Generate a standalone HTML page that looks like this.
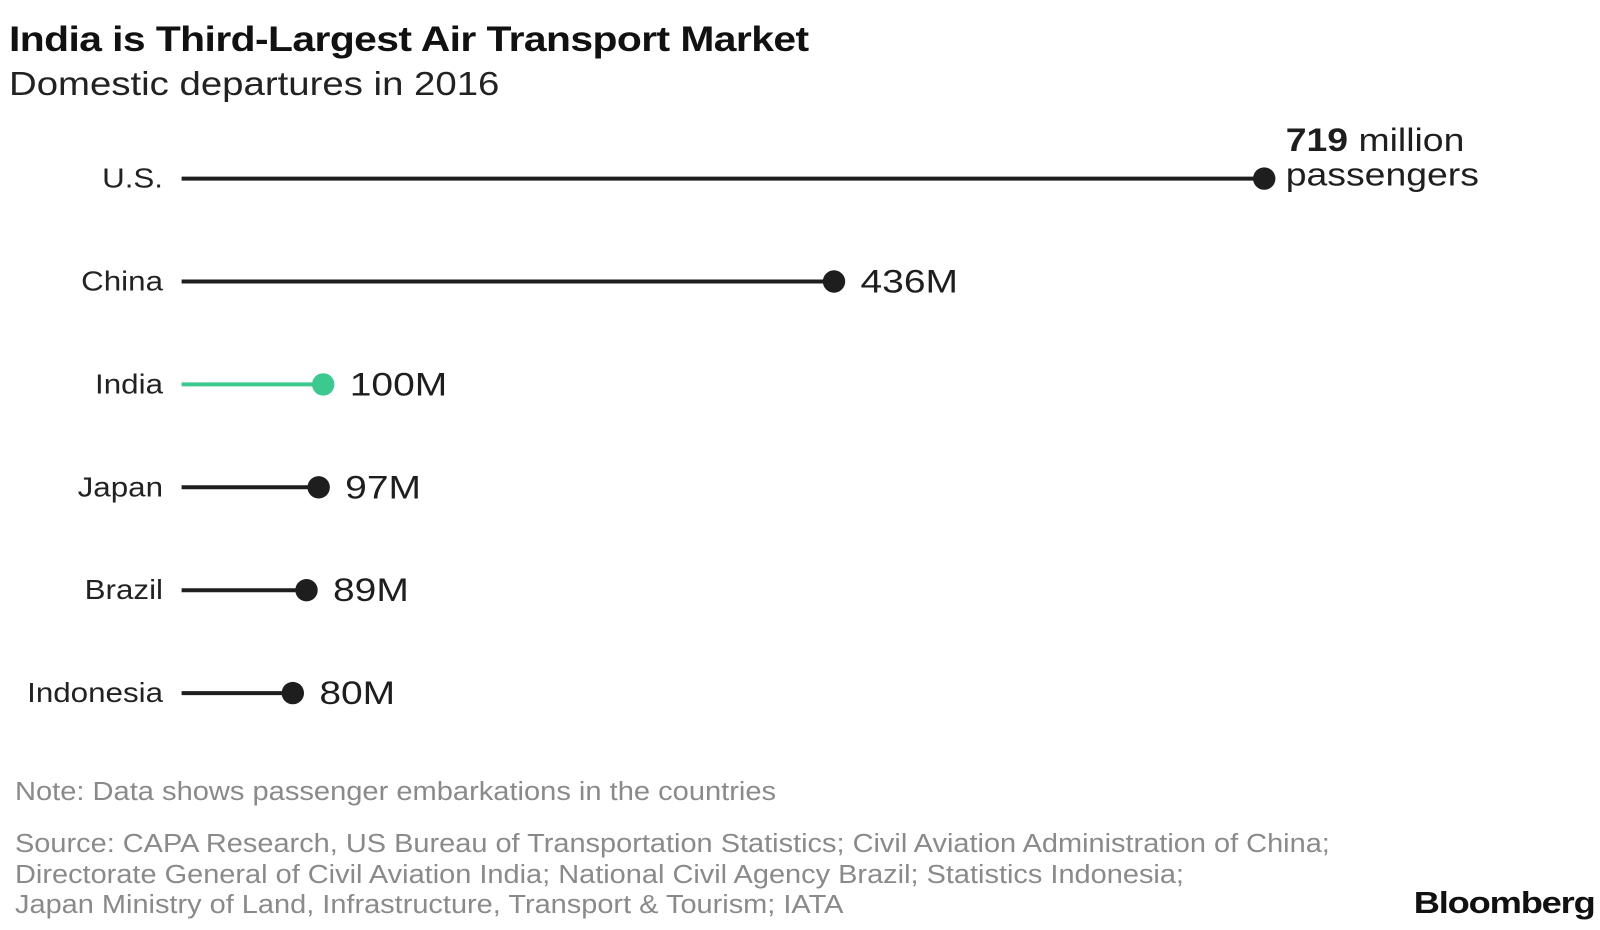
<!DOCTYPE html>
<html><head><meta charset="utf-8"><style>
body{margin:0;width:1600px;height:930px;background:#fff;font-family:"Liberation Sans",sans-serif;position:relative;overflow:hidden}
.t{position:absolute;white-space:nowrap;transform-origin:0 0}
</style></head><body>
<div class="t" style="left:9px;top:19px;font-size:35.5px;font-weight:bold;color:#111;letter-spacing:-0.5px;transform:scaleX(1.15)">India is Third-Largest Air Transport Market</div>
<div class="t" style="left:9px;top:66px;font-size:33.5px;color:#222;transform:scaleX(1.145)">Domestic departures in 2016</div>
<svg id="chart" width="1600" height="760" style="position:absolute;left:0;top:0"></svg>
<div class="t" style="left:15px;top:778px;font-size:25.5px;color:#8a8a8a;transform:scaleX(1.14)">Note: Data shows passenger embarkations in the countries</div>
<div class="t" style="left:15px;top:829px;font-size:25.5px;color:#8a8a8a;line-height:30.6px;transform:scaleX(1.135)">Source: CAPA Research, US Bureau of Transportation Statistics; Civil Aviation Administration of China;<br>Directorate General of Civil Aviation India; National Civil Agency Brazil; Statistics Indonesia;<br>Japan Ministry of Land, Infrastructure, Transport &amp; Tourism; IATA</div>
<div class="t" style="right:5px;top:885px;font-size:31px;font-weight:bold;color:#111;letter-spacing:-1px;transform-origin:100% 0;transform:scaleX(1.17)">Bloomberg</div>
<script>
const countries=["U.S.","China","India","Japan","Brazil","Indonesia"];
const values=[719,436,100,97,89,80];
const valueLabels=["719","436M","100M","97M","89M","80M"];
const highlight=["India"];
const svg=document.getElementById('chart');
const NS="http://www.w3.org/2000/svg";
const x=v=>171.2+v*1.5202;
const y=i=>178.6+i*102.9;
countries.forEach((c,i)=>{
  const col=highlight.includes(c)?"#3cc98f":"#1e1e1e";
  const yy=y(i),xx=x(values[i]);
  const lab=document.createElementNS(NS,'text');
  
  
  lab.setAttribute('x',0);lab.setAttribute('y',0);lab.setAttribute('text-anchor','end');
  lab.setAttribute('transform','translate(163,'+(yy+9)+') scale(1.14,1)');
  lab.setAttribute('font-size','27.5');lab.setAttribute('fill','#222');lab.textContent=c;svg.appendChild(lab);
  const ln=document.createElementNS(NS,'line');
  
  
  ln.setAttribute('x1',181.6);ln.setAttribute('x2',xx);ln.setAttribute('y1',yy);ln.setAttribute('y2',yy);
  ln.setAttribute('stroke',col);ln.setAttribute('stroke-width','4');svg.appendChild(ln);
  const dot=document.createElementNS(NS,'circle');
  
  
  dot.setAttribute('cx',xx);dot.setAttribute('cy',yy);dot.setAttribute('r','11.2');dot.setAttribute('fill',col);svg.appendChild(dot);
  const vl=document.createElementNS(NS,'text');
  
  
  vl.setAttribute('font-size','32.5');vl.setAttribute('fill','#1e1e1e');
  vl.setAttribute('x',0);vl.setAttribute('y',0);
  if(i===0){
    vl.setAttribute('transform','translate('+(xx+21.5)+','+(yy-27.5)+') scale(1.15,1)');
    vl.innerHTML='<tspan font-weight="bold">'+valueLabels[i]+'</tspan> million<tspan x="0" dy="34.5">passengers</tspan>';
  }else{
    vl.setAttribute('transform','translate('+(xx+26.5)+','+(yy+11)+') scale(1.2,1)');
    vl.textContent=valueLabels[i];
  }
  svg.appendChild(vl);
});
</script>
</body></html>
